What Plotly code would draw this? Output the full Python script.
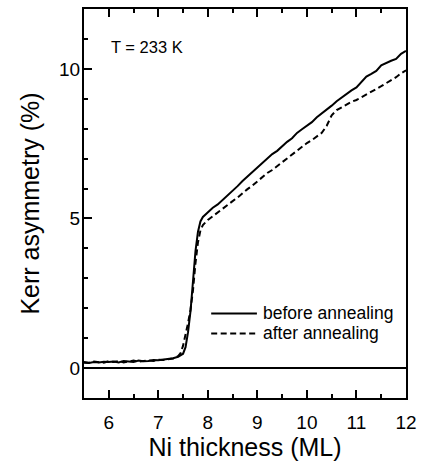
import plotly.graph_objects as go

# Ni thickness (ML) and Kerr asymmetry (%)
x_before = [5.5, 5.6, 5.7, 5.8, 5.9, 6.0, 6.1, 6.2, 6.3, 6.4, 6.5, 6.6, 6.7, 6.8, 6.9,
            7.0, 7.1, 7.2, 7.3, 7.4, 7.5, 7.55, 7.6, 7.65, 7.7, 7.75, 7.8, 7.85, 7.9,
            8.0, 8.1, 8.2, 8.3, 8.4, 8.5, 8.6, 8.7, 8.8, 8.9, 9.0, 9.1, 9.2, 9.3, 9.4,
            9.5, 9.6, 9.7, 9.8, 9.9, 10.0, 10.1, 10.2, 10.3, 10.4, 10.5, 10.6, 10.7,
            10.8, 10.9, 11.0, 11.1, 11.2, 11.3, 11.4, 11.5, 11.6, 11.7, 11.8, 11.9, 12.0]
y_before = [0.18, 0.17, 0.20, 0.19, 0.21, 0.20, 0.22, 0.19, 0.24, 0.21, 0.20, 0.25, 0.23, 0.24, 0.27,
            0.26, 0.28, 0.30, 0.33, 0.38, 0.48, 0.70, 1.20, 1.90, 2.90, 3.90, 4.55, 4.90, 5.05,
            5.22, 5.36, 5.47, 5.62, 5.76, 5.92, 6.08, 6.25, 6.40, 6.58, 6.72, 6.85, 7.00, 7.15, 7.26,
            7.42, 7.56, 7.68, 7.86, 7.98, 8.10, 8.22, 8.38, 8.50, 8.63, 8.77, 8.92, 9.05,
            9.16, 9.28, 9.38, 9.55, 9.74, 9.83, 9.93, 10.12, 10.20, 10.27, 10.33, 10.50, 10.60]

x_after = [5.5, 5.6, 5.7, 5.8, 5.9, 6.0, 6.1, 6.2, 6.3, 6.4, 6.5, 6.6, 6.7, 6.8, 6.9,
           7.0, 7.1, 7.2, 7.3, 7.4, 7.45, 7.5, 7.55, 7.6, 7.65, 7.7, 7.75, 7.8, 7.85, 7.9,
           8.0, 8.1, 8.2, 8.3, 8.4, 8.5, 8.6, 8.7, 8.8, 8.9, 9.0, 9.1, 9.2, 9.3, 9.4,
           9.5, 9.6, 9.7, 9.8, 9.9, 10.0, 10.1, 10.2, 10.3, 10.4, 10.5, 10.6, 10.7,
           10.8, 10.9, 11.0, 11.1, 11.2, 11.3, 11.4, 11.5, 11.6, 11.7, 11.8, 11.9, 12.0]
y_after = [0.20, 0.18, 0.22, 0.20, 0.18, 0.23, 0.20, 0.24, 0.19, 0.22, 0.25, 0.21, 0.24, 0.26, 0.24,
           0.28, 0.27, 0.30, 0.32, 0.40, 0.50, 0.75, 1.10, 1.50, 1.95, 2.60, 3.50, 4.20, 4.60, 4.78,
           4.95, 5.08, 5.22, 5.33, 5.45, 5.58, 5.70, 5.85, 5.98, 6.10, 6.25, 6.40, 6.52, 6.62, 6.75,
           6.88, 7.00, 7.12, 7.28, 7.38, 7.52, 7.62, 7.75, 7.86, 8.10, 8.45, 8.62, 8.72,
           8.80, 8.90, 8.96, 9.05, 9.14, 9.22, 9.32, 9.42, 9.52, 9.62, 9.72, 9.85, 9.95]

series_names = ["before annealing", "after annealing"]
x_ticks = [6, 7, 8, 9, 10, 11, 12]
y_ticks = [0, 5, 10]
label_T = "T = 233 K"

FONT = "Liberation Sans, Arial, Helvetica, sans-serif"

fig = go.Figure()
fig.add_trace(go.Scatter(x=x_before, y=y_before, mode="lines", name=series_names[0],
                         line=dict(color="black", width=2), showlegend=False))
fig.add_trace(go.Scatter(x=x_after, y=y_after, mode="lines", name=series_names[1],
                         line=dict(color="black", width=2, dash="6px,3.5px"), showlegend=False))

# legend drawn by hand (paper coordinates)
leg_y = [0.2174, 0.166]
dashes = ["solid", "6px,3.5px"]
for name, yy, d in zip(series_names, leg_y, dashes):
    fig.add_shape(type="line", xref="paper", yref="paper", x0=0.395, x1=0.537, y0=yy, y1=yy,
                  line=dict(color="black", width=2, dash=d))
    fig.add_annotation(xref="paper", yref="paper", x=0.549, y=yy, text=name, showarrow=False,
                       xanchor="left", yanchor="middle", font=dict(family=FONT, size=17.5, color="black"))

fig.add_annotation(xref="paper", yref="paper", x=0.077, y=0.903, text=label_T, showarrow=False,
                   xanchor="left", yanchor="middle", font=dict(family=FONT, size=16.5, color="black"))

fig.update_layout(
    width=424, height=472,
    margin=dict(l=84, r=16, t=7, b=74),
    paper_bgcolor="white", plot_bgcolor="white",
    font=dict(family=FONT, color="black"),
)
fig.update_xaxes(
    range=[5.5, 12], tickvals=x_ticks, ticks="inside", ticklen=8, tickwidth=1.5,
    tickcolor="black", showline=True, linecolor="black", linewidth=2, mirror="ticks",
    showgrid=False, zeroline=False, tickfont=dict(size=19), ticklabelstandoff=6,
    minor=dict(dtick=0.5, ticks="inside", ticklen=4, tickwidth=1.5, tickcolor="black", showgrid=False),
    title=dict(text="Ni thickness (ML)", font=dict(size=25), standoff=1),
)
fig.update_yaxes(
    range=[-1, 12], tickvals=y_ticks, ticks="inside", ticklen=8, tickwidth=1.5,
    tickcolor="black", showline=True, linecolor="black", linewidth=2, mirror=True,
    showgrid=False, zeroline=True, zerolinecolor="black", zerolinewidth=1.5,
    tickfont=dict(size=19), ticklabelstandoff=-2,
    minor=dict(dtick=1, ticks="inside", ticklen=4, tickwidth=1.5, tickcolor="black", showgrid=False),
    title=dict(text="Kerr asymmetry (%)", font=dict(size=25), standoff=12),
)

fig.write_html("out.html")
